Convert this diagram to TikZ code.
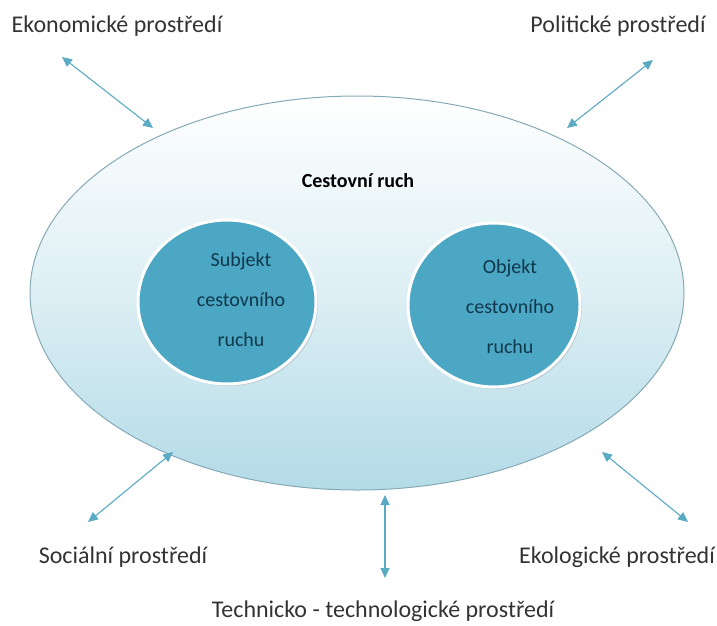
\documentclass[tikz,border=0pt]{standalone}
\usepackage{fontspec}
\setmainfont{Carlito}
\usetikzlibrary{shapes.geometric,arrows.meta,shadows}
\definecolor{arrowc}{HTML}{5AAAC4}
\definecolor{innerc}{HTML}{4BA7C3}
\definecolor{rimc}{HTML}{86A9B8}
\definecolor{bottomc}{HTML}{B3DBE7}
\definecolor{labelc}{HTML}{333333}
\definecolor{innertext}{HTML}{10384C}
\begin{document}
\begin{tikzpicture}[x=1pt,y=-1pt,
  envlabel/.style={text=labelc,font=\fontsize{24}{28}\selectfont,inner sep=0pt},
  bothway/.style={draw=arrowc,line width=1.1pt,{Triangle[length=10pt,width=9pt]}-{Triangle[length=10pt,width=9pt]}},
  innerball/.style={ellipse,fill=innerc,draw=white,line width=3pt,minimum width=178pt,minimum height=164pt,
    drop shadow={opacity=0.25,shadow xshift=2pt,shadow yshift=-2pt}},
  innertxt/.style={text=innertext,font=\fontsize{20}{40}\selectfont,align=center}]
\useasboundingbox (0,0) rectangle (717,625);
% big ellipse
\node[ellipse,minimum width=654pt,minimum height=394pt,draw=rimc,line width=1pt,
  top color=white,bottom color=bottomc,middle color=white!55!bottomc] (tour) at (357,293) {};
\node[font=\fontsize{20}{24}\selectfont\bfseries,text=black] (title) at (358,181) {Cestovní ruch};
% inner balls
\node[innerball] (subj) at (227,302) {};
\node[innerball,minimum width=172pt] (obj) at (494,305) {};
\node[innertxt] (subjt) at (241,300) {Subjekt\\cestovního\\ruchu};
\node[innertxt] (objt) at (510,307) {Objekt\\cestovního\\ruchu};
% labels
\node[envlabel] (eko) at (117,26) {Ekonomické prostředí};
\node[envlabel] (pol) at (618,26) {Politické prostředí};
\node[envlabel] (soc) at (123,557) {Sociální prostředí};
\node[envlabel] (ekol) at (617,557) {Ekologické prostředí};
\node[envlabel] (tech) at (383,611) {Technicko - technologické prostředí};
% arrow ends
\coordinate (a1) at (62,57);  \coordinate (b1) at (153,128);
\coordinate (a2) at (653,60); \coordinate (b2) at (567,128);
\coordinate (a3) at (88,522); \coordinate (b3) at (173,452);
\coordinate (a4) at (688,522);\coordinate (b4) at (602,452);
\coordinate (a5) at (385,578);\coordinate (b5) at (385,495);
\draw[bothway] (a1) -- (b1);
\draw[bothway] (a2) -- (b2);
\draw[bothway] (a3) -- (b3);
\draw[bothway] (a4) -- (b4);
\draw[bothway] (a5) -- (b5);
\end{tikzpicture}
\end{document}
